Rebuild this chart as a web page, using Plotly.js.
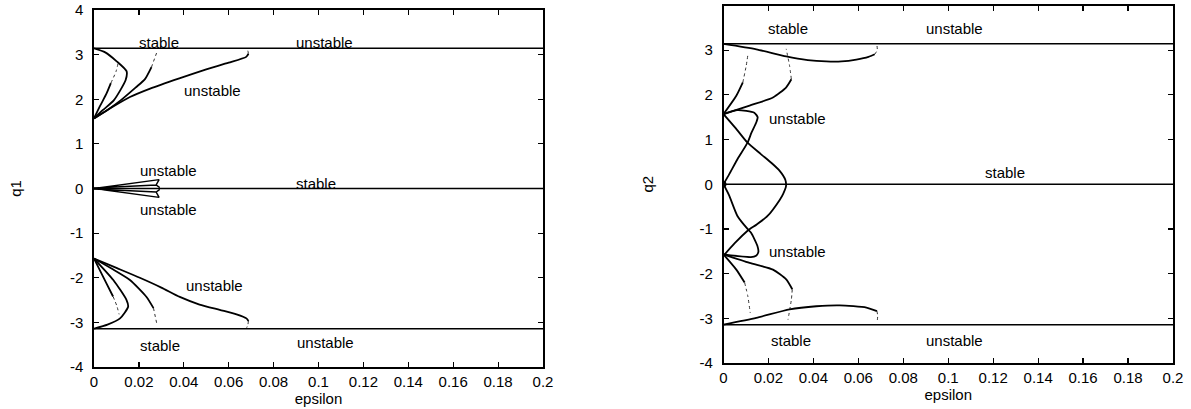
<!DOCTYPE html>
<html>
<head>
<meta charset="utf-8">
<script src="https://cdn.plot.ly/plotly-3.0.1.min.js"></script>
<style>
  html, body { margin: 0; padding: 0; background: #fff; }
  #chart { width: 1191px; height: 409px; }
</style>
</head>
<body>
<div id="chart"></div>
<script>
// ---------- shared ----------
const epsRange = [0, 0.2];
const lineTopY = [3.1416, 3.1416];
const lineZeroY = [0, 0];
const lineBotY = [-3.1416, -3.1416];
const xTickVals = [0, 0.02, 0.04, 0.06, 0.08, 0.1, 0.12, 0.14, 0.16, 0.18, 0.2];
const xTickText = ["0", "0.02", "0.04", "0.06", "0.08", "0.1", "0.12", "0.14", "0.16", "0.18", "0.2"];
const yTickVals = [-4, -3, -2, -1, 0, 1, 2, 3, 4];
const yTickText = ["-4", "-3", "-2", "-1", "0", "1", "2", "3", "4"];

// ---------- left panel (q1) ----------
const q1MainUpX = [0, 0.008, 0.016, 0.025, 0.038, 0.05, 0.06, 0.0678, 0.0688];
const q1MainUpY = [1.57, 1.82, 2.05, 2.24, 2.47, 2.67, 2.82, 2.95, 3.02];
const q1MainUpTipX = [0.0688, 0.0685, 0.068];
const q1MainUpTipY = [3.02, 3.09, 3.13];
const q1LoopUpX = [0, 0.005, 0.0101, 0.0145, 0.0141, 0.0089, 0.004, 0];
const q1LoopUpY = [3.14, 3.05, 2.85, 2.63, 2.43, 1.98, 1.76, 1.57];
const q1InnerUpX = [0, 0.0027, 0.0056, 0.0075];
const q1InnerUpY = [1.57, 1.85, 2.13, 2.36];
const q1InnerUpTipX = [0.0075, 0.0098, 0.0108];
const q1InnerUpTipY = [2.36, 2.62, 2.82];
const q1MidUpX = [0, 0.006, 0.012, 0.0185, 0.0227, 0.0256];
const q1MidUpY = [1.57, 1.76, 1.98, 2.26, 2.45, 2.72];
const q1MidUpTipX = [0.0256, 0.0279];
const q1MidUpTipY = [2.72, 3.04];

const q1MainLoX = [0, 0.01, 0.0204, 0.03, 0.0382, 0.047, 0.056, 0.0635, 0.0679, 0.0688];
const q1MainLoY = [-1.57, -1.78, -2.0, -2.22, -2.43, -2.6, -2.72, -2.82, -2.91, -2.97];
const q1MainLoTipX = [0.0688, 0.0685, 0.068];
const q1MainLoTipY = [-2.97, -3.06, -3.12];
const q1LoopLoX = [0, 0.0086, 0.0145, 0.0152, 0.0116, 0.006, 0];
const q1LoopLoY = [-1.57, -2.05, -2.5, -2.65, -2.91, -3.05, -3.14];
const q1InnerLoX = [0, 0.0056, 0.0085];
const q1InnerLoY = [-1.57, -2.13, -2.42];
const q1InnerLoTipX = [0.0085, 0.0101, 0.0112];
const q1InnerLoTipY = [-2.42, -2.62, -2.82];
const q1MidLoX = [0, 0.008, 0.016, 0.0234, 0.0265];
const q1MidLoY = [-1.57, -1.8, -2.05, -2.43, -2.68];
const q1MidLoTipX = [0.0265, 0.0281];
const q1MidLoTipY = [-2.68, -3.06];

const q1ArrowUpX = [0, 0.029, 0.0277, 0, 0.0277, 0.0293];
const q1ArrowUpY = [0, 0.2, 0.08, 0.01, 0.08, 0.02];
const q1ArrowLoX = [0, 0.029, 0.0277, 0, 0.0277, 0.0293];
const q1ArrowLoY = [0, -0.2, -0.08, -0.01, -0.08, -0.02];

const q1LabelText = ["stable", "unstable", "unstable", "unstable", "stable", "unstable", "unstable", "stable", "unstable"];
const q1LabelX = [0.0289, 0.1025, 0.0528, 0.0331, 0.099, 0.0331, 0.0536, 0.0296, 0.1033];
const q1LabelY = [3.28, 3.28, 2.19, 0.41, 0.12, -0.48, -2.18, -3.51, -3.46];

// ---------- right panel (q2) ----------
const q2TopX = [0, 0.0146, 0.0279, 0.0375, 0.0457, 0.0525, 0.0591, 0.0645, 0.0673];
const q2TopY = [3.14, 3.02, 2.86, 2.78, 2.75, 2.75, 2.79, 2.85, 2.91];
const q2TopTipX = [0.0673, 0.0684, 0.0683];
const q2TopTipY = [2.91, 3.0, 3.1];
const q2UpOuterX = [0, 0.0116, 0.022, 0.0279, 0.0302];
const q2UpOuterY = [1.57, 1.76, 1.94, 2.17, 2.35];
const q2UpOuterTipX = [0.0302, 0.0294, 0.0279];
const q2UpOuterTipY = [2.35, 2.65, 3.03];
const q2UpInnerX = [0, 0.0057, 0.0086];
const q2UpInnerY = [1.57, 1.98, 2.28];
const q2UpInnerTipX = [0.0086, 0.0101, 0.0108];
const q2UpInnerTipY = [2.28, 2.65, 2.88];
const q2HookUpX = [0, 0.0062, 0.0137, 0.0152, 0.0147, 0.0125, 0.0107, 0.0062, 0.0025, 0];
const q2HookUpY = [1.57, 1.66, 1.6, 1.5, 1.4, 1.16, 0.93, 0.56, 0.22, 0];
const q2WaveX = [0, 0.0055, 0.0107, 0.0165, 0.0215, 0.025, 0.0275, 0.0278, 0.0265, 0.025, 0.0196, 0.0148, 0.0107, 0.005, 0];
const q2WaveY = [1.57, 1.25, 0.93, 0.68, 0.47, 0.3, 0.1, -0.05, -0.22, -0.35, -0.71, -0.9, -1.04, -1.32, -1.6];
const q2HookLoX = [0, 0.0025, 0.0062, 0.0107, 0.0122, 0.0151, 0.0155, 0.0145, 0.0122, 0];
const q2HookLoY = [0, -0.25, -0.71, -1.0, -1.08, -1.38, -1.52, -1.6, -1.63, -1.57];
const q2LoOuterX = [0, 0.0116, 0.022, 0.0279, 0.0306];
const q2LoOuterY = [-1.57, -1.76, -1.91, -2.13, -2.35];
const q2LoOuterTipX = [0.0306, 0.0302, 0.0287];
const q2LoOuterTipY = [-2.35, -2.58, -3.03];
const q2LoInnerX = [0, 0.0057, 0.0094];
const q2LoInnerY = [-1.57, -1.91, -2.2];
const q2LoInnerTipX = [0.0094, 0.0108, 0.0119];
const q2LoInnerTipY = [-2.2, -2.5, -2.88];
const q2BotX = [0, 0.0146, 0.0294, 0.0413, 0.0517, 0.0636, 0.0683];
const q2BotY = [-3.14, -2.99, -2.8, -2.73, -2.71, -2.76, -2.84];
const q2BotTipX = [0.0683, 0.0686, 0.0684];
const q2BotTipY = [-2.84, -2.95, -3.06];
const q2DotX = [0];
const q2DotY = [0];

const q2LabelText = ["stable", "unstable", "unstable", "stable", "unstable", "stable", "unstable"];
const q2LabelX = [0.0289, 0.103, 0.0329, 0.1254, 0.0329, 0.030, 0.103];
const q2LabelY = [3.49, 3.49, 1.48, 0.27, -1.51, -3.5, -3.5];

// ---------- build ----------
const FONT = "Liberation Sans, Arial, Helvetica, sans-serif";
const traces = [];
function solid(x, y, ax, w) {
  traces.push({x: x, y: y, xaxis: ax[0], yaxis: ax[1], mode: "lines", type: "scatter",
    line: {color: "#000", width: w || 1.8, shape: "spline", smoothing: 0.6}, hoverinfo: "skip", showlegend: false});
}
function straight(x, y, ax, w) {
  traces.push({x: x, y: y, xaxis: ax[0], yaxis: ax[1], mode: "lines", type: "scatter",
    line: {color: "#000", width: w || 1.5}, hoverinfo: "skip", showlegend: false});
}
function dotted(x, y, ax) {
  traces.push({x: x, y: y, xaxis: ax[0], yaxis: ax[1], mode: "lines", type: "scatter",
    line: {color: "#333", width: 1, dash: "dot", shape: "spline", smoothing: 0.6}, hoverinfo: "skip", showlegend: false});
}
const L = ["x", "y"], R = ["x2", "y2"];

// left
straight(epsRange, lineTopY, L); straight(epsRange, lineZeroY, L); straight(epsRange, lineBotY, L);
solid(q1MainUpX, q1MainUpY, L); dotted(q1MainUpTipX, q1MainUpTipY, L);
solid(q1LoopUpX, q1LoopUpY, L);
solid(q1InnerUpX, q1InnerUpY, L); dotted(q1InnerUpTipX, q1InnerUpTipY, L);
solid(q1MidUpX, q1MidUpY, L); dotted(q1MidUpTipX, q1MidUpTipY, L);
solid(q1MainLoX, q1MainLoY, L); dotted(q1MainLoTipX, q1MainLoTipY, L);
solid(q1LoopLoX, q1LoopLoY, L);
solid(q1InnerLoX, q1InnerLoY, L); dotted(q1InnerLoTipX, q1InnerLoTipY, L);
solid(q1MidLoX, q1MidLoY, L); dotted(q1MidLoTipX, q1MidLoTipY, L);
straight(q1ArrowUpX, q1ArrowUpY, L, 1.4); straight(q1ArrowLoX, q1ArrowLoY, L, 1.4);

// right
straight(epsRange, lineTopY, R); straight(epsRange, lineZeroY, R); straight(epsRange, lineBotY, R);
solid(q2TopX, q2TopY, R); dotted(q2TopTipX, q2TopTipY, R);
solid(q2UpOuterX, q2UpOuterY, R); dotted(q2UpOuterTipX, q2UpOuterTipY, R);
solid(q2UpInnerX, q2UpInnerY, R); dotted(q2UpInnerTipX, q2UpInnerTipY, R);
solid(q2HookUpX, q2HookUpY, R);
solid(q2WaveX, q2WaveY, R);
solid(q2HookLoX, q2HookLoY, R);
solid(q2LoOuterX, q2LoOuterY, R); dotted(q2LoOuterTipX, q2LoOuterTipY, R);
solid(q2LoInnerX, q2LoInnerY, R); dotted(q2LoInnerTipX, q2LoInnerTipY, R);
solid(q2BotX, q2BotY, R); dotted(q2BotTipX, q2BotTipY, R);
traces.push({x: q2DotX, y: q2DotY, xaxis: "x2", yaxis: "y2", mode: "markers", type: "scatter",
  marker: {color: "#000", size: 6}, hoverinfo: "skip", showlegend: false});

const annotations = [];
q1LabelText.forEach((t, i) => annotations.push({text: t, x: q1LabelX[i], y: q1LabelY[i], xref: "x", yref: "y",
  showarrow: false, xanchor: "center", yanchor: "middle", font: {family: FONT, size: 15, color: "#000"}}));
q2LabelText.forEach((t, i) => annotations.push({text: t, x: q2LabelX[i], y: q2LabelY[i], xref: "x2", yref: "y2",
  showarrow: false, xanchor: "center", yanchor: "middle", font: {family: FONT, size: 15, color: "#000"}}));

function xAxis(dom, anchor) {
  return {domain: dom, anchor: anchor, range: [0, 0.2], tickvals: xTickVals, ticktext: xTickText,
    ticks: "inside", ticklen: 5, tickwidth: 1.2, tickcolor: "#000", mirror: "ticks", showline: true,
    linecolor: "#000", linewidth: 1.6, showgrid: false, zeroline: false,
    tickfont: {family: FONT, size: 15, color: "#000"},
    title: {text: "epsilon", font: {family: FONT, size: 15, color: "#000"}, standoff: 0}};
}
function yAxis(dom, anchor, name, standoff) {
  return {domain: dom, anchor: anchor, range: [-4, 4], tickvals: yTickVals, ticktext: yTickText,
    ticks: "inside", ticklen: 5, tickwidth: 1.2, tickcolor: "#000", mirror: "ticks", showline: true,
    linecolor: "#000", linewidth: 1.6, showgrid: false, zeroline: false, ticklabelstandoff: 6,
    tickfont: {family: FONT, size: 15, color: "#000"},
    title: {text: name, font: {family: FONT, size: 15, color: "#000"}, standoff: standoff}};
}

const layout = {
  width: 1191, height: 409,
  margin: {l: 0, r: 0, t: 0, b: 0},
  paper_bgcolor: "#fff", plot_bgcolor: "#fff",
  showlegend: false,
  xaxis: xAxis([94 / 1191, 543 / 1191], "y"),
  yaxis: yAxis([(409 - 367) / 409, (409 - 10) / 409], "x", "q1", 45),
  xaxis2: xAxis([723.5 / 1191, 1173 / 1191], "y2"),
  yaxis2: yAxis([(409 - 363) / 409, (409 - 5.5) / 409], "x2", "q2", 42),
  annotations: annotations
};

Plotly.newPlot("chart", traces, layout, {staticPlot: true, displayModeBar: false});
</script>
</body>
</html>
